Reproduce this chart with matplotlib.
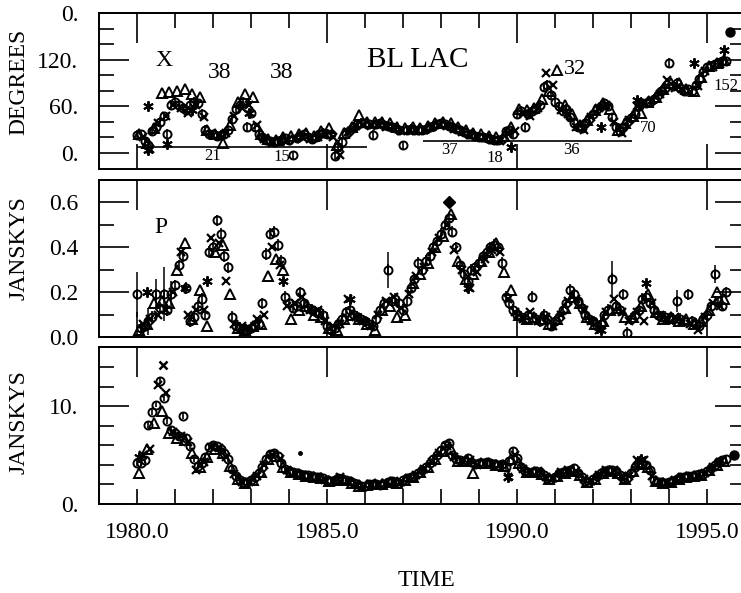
import matplotlib
matplotlib.use('Agg')
import matplotlib.pyplot as plt
from matplotlib.ticker import FixedLocator, NullLocator

plt.rcParams['font.family'] = ['Liberation Serif', 'DejaVu Serif']

# ---------------- observation epochs (years) ----------------
EPOCH_C = [
 1980.0,1980.1,1980.2,1980.3,1980.4,1980.5,1980.6,1980.7,1980.8,1980.9,
 1981.0,1981.1,1981.2,1981.3,1981.4,1981.5,1981.6,1981.7,1981.8,1981.9,
 1982.0,1982.1,1982.2,1982.3,1982.4,1982.5,1982.6,1982.7,1982.8,1982.9,
 1983.0,1983.1,1983.2,1983.3,1983.4,1983.5,1983.6,1983.7,1983.8,1983.9,
 1984.0,1984.1,1984.2,1984.3,1984.4,1984.5,1984.6,1984.7,1984.8,1984.9,
 1985.0,1985.1,1985.2,1985.3,1985.4,1985.5,1985.6,1985.7,1985.8,1985.9,
 1986.0,1986.1,1986.2,1986.3,1986.4,1986.5,1986.6,1986.7,1986.8,1986.9,
 1987.0,1987.1,1987.2,1987.3,1987.4,1987.5,1987.6,1987.7,1987.8,1987.9,
 1988.0,1988.1,1988.2,1988.3,1988.4,1988.5,1988.6,1988.7,1988.8,1988.9,
 1989.0,1989.1,1989.2,1989.3,1989.4,1989.5,1989.6,1989.7,1989.8,1989.9,
 1990.0,1990.1,1990.2,1990.3,1990.4,1990.5,1990.6,1990.7,1990.8,1990.9,
 1991.0,1991.1,1991.2,1991.3,1991.4,1991.5,1991.6,1991.7,1991.8,1991.9,
 1992.0,1992.1,1992.2,1992.3,1992.4,1992.5,1992.6,1992.7,1992.8,1992.9,
 1993.0,1993.1,1993.2,1993.3,1993.4,1993.5,1993.6,1993.7,1993.8,1993.9,
 1994.0,1994.1,1994.2,1994.3,1994.4,1994.5,1994.6,1994.7,1994.8,1994.9,
 1995.0,1995.1,1995.2,1995.3,1995.4,1995.5]
EPOCH_T = [
 1980.05,1980.25,1980.45,1980.65,1980.85, 1981.05,1981.25,1981.45,1981.65,1981.85,
 1982.05,1982.25,1982.45,1982.65,1982.85, 1983.05,1983.25,1983.45,1983.65,1983.85,
 1984.05,1984.25,1984.45,1984.65,1984.85, 1985.05,1985.25,1985.45,1985.65,1985.85,
 1986.05,1986.25,1986.45,1986.65,1986.85, 1987.05,1987.25,1987.45,1987.65,1987.85,
 1988.05,1988.25,1988.45,1988.65,1988.85, 1989.05,1989.25,1989.45,1989.65,1989.85,
 1990.05,1990.25,1990.45,1990.65,1990.85, 1991.05,1991.25,1991.45,1991.65,1991.85,
 1992.05,1992.25,1992.45,1992.65,1992.85, 1993.05,1993.25,1993.45,1993.65,1993.85,
 1994.05,1994.25,1994.45,1994.65,1994.85, 1995.05,1995.25,1995.45]
EPOCH_X = [
 1980.15,1980.35,1980.55,1980.75,1980.95, 1981.15,1981.35,1981.55,1981.75,1981.95,
 1982.15,1982.35,1982.55,1982.75,1982.95, 1983.15,1983.35,1983.55,1983.75,1983.95,
 1984.15,1984.35,1984.55,1984.75,1984.95, 1985.15,1985.35,1985.55,1985.75,1985.95,
 1986.15,1986.35,1986.55,1986.75,1986.95, 1987.15,1987.35,1987.55,1987.75,1987.95,
 1988.15,1988.35,1988.55,1988.75,1988.95, 1989.15,1989.35,1989.55,1989.75,1989.95,
 1990.15,1990.35,1990.55,1990.75,1990.95, 1991.15,1991.35,1991.55,1991.75,1991.95,
 1992.15,1992.35,1992.55,1992.75,1992.95, 1993.15,1993.35,1993.55,1993.75,1993.95,
 1994.15,1994.35,1994.55,1994.75,1994.95, 1995.15,1995.35]

# ---------------- top panel: polarization angle (degrees) ----------------
DEG_C = [
 23,24,16,10,28,34,40,47,25,62,
 66,62,58,55,62,66,64,50,30,25,
 24,22,23,25,30,44,56,62,66,34,
 51,34,25,20,17,15,14,15,17,19,
 17,-3,19,22,24,21,18,20,24,26,
 25,24,-4,8,14,24,30,34,37,39,
 38,37,23,37,38,36,35,34,32,30,
 10,30,31,30,29,30,31,33,35,37,
 38,37,35,33,31,29,27,25,24,22,
 21,20,19,18,17,17,18,28,30,25,
 50,54,34,50,54,57,62,85,88,75,
 66,60,54,57,46,38,34,32,38,44,
 50,56,60,64,60,46,34,28,33,40,
 45,50,60,64,64,66,70,74,80,84,
 116,86,90,84,80,82,80,88,95,104,
 110,112,114,116,118,118]
DEG_T = [
 24,13,32,77,78, 80,82,76,72,30,
 25,13,36,66,76, 72,24,18,17,20,
 22,24,26,22,28, 32,10,26,34,49,
 40,40,40,38,34, 32,33,32,35,38,
 40,38,34,30,26, 24,22,20,22,34,
 56,55,58,70,80, 107,62,50,36,42,
 55,64,56,30,38, 48,52,66,72,82,
 90,90,82,80,98, 112,116,120]
DEG_X = [
 20,5,38,48,62, 58,52,62,46,24,
 22,26,48,58,62, 36,18,13,14,16,
 18,20,18,20,24, 20,-3,27,35,36,
 35,36,34,32,28, 29,28,30,34,36,
 35,31,27,23,20, 19,17,16,26,28,
 50,48,58,103,88, 55,50,34,30,46,
 58,62,40,26,42, 60,66,68,76,94,
 84,82,78,86,106, 110,114]
DEG_A_T = [1980.3, 1980.3, 1980.8, 1981.45, 1982.95, 1989.85, 1992.2, 1993.15, 1994.65, 1995.45]
DEG_A_V = [60, 4, 12, 55, 52, 8, 34, 68, 116, 133]
DEG_F_T = [1995.6]
DEG_F_V = [155]
DEG_ERR = 6
SEG_START = [1980.0, 1987.53]
SEG_END = [1986.06, 1993.03]
SEG_LEVEL = [7.1, 15.5]

# ---------------- middle panel: polarized flux (Jy) ----------------
POL_C = [
 0.19,0.04,0.05,0.07,0.09,0.19,0.13,0.19,0.12,0.19,
 0.23,0.32,0.36,0.22,0.07,0.09,0.14,0.17,0.10,0.38,
 0.40,0.52,0.46,0.36,0.31,0.09,0.05,0.04,0.03,0.03,
 0.04,0.05,0.06,0.15,0.37,0.46,0.47,0.41,0.34,0.18,
 0.15,0.13,0.14,0.20,0.15,0.13,0.12,0.11,0.11,0.10,
 0.05,0.03,0.04,0.06,0.08,0.11,0.12,0.10,0.09,0.08,
 0.07,0.06,0.05,0.08,0.12,0.15,0.30,0.16,0.17,0.15,
 0.12,0.16,0.22,0.26,0.33,0.30,0.34,0.36,0.40,0.43,
 0.46,0.50,0.53,0.47,0.40,0.32,0.28,0.25,0.30,0.31,
 0.33,0.36,0.38,0.40,0.41,0.40,0.33,0.18,0.15,0.12,
 0.10,0.09,0.08,0.10,0.18,0.08,0.07,0.10,0.08,0.05,
 0.07,0.09,0.12,0.15,0.21,0.19,0.16,0.13,0.10,0.08,
 0.07,0.05,0.06,0.10,0.12,0.26,0.14,0.12,0.19,0.02,
 0.08,0.10,0.12,0.17,0.18,0.15,0.12,0.10,0.09,0.09,
 0.08,0.08,0.16,0.08,0.07,0.19,0.07,0.06,0.05,0.08,
 0.10,0.14,0.28,0.16,0.14,0.20]
POL_T = [
 0.03,0.06,0.15,0.16,0.15, 0.30,0.42,0.08,0.21,0.05,
 0.38,0.41,0.19,0.04,0.03, 0.05,0.06,0.27,0.35,0.30,
 0.08,0.12,0.14,0.10,0.09, 0.04,0.03,0.08,0.10,0.08,
 0.06,0.03,0.12,0.14,0.09, 0.10,0.24,0.28,0.33,0.40,
 0.45,0.55,0.34,0.26,0.28, 0.34,0.38,0.42,0.29,0.21,
 0.10,0.08,0.09,0.08,0.06, 0.08,0.13,0.18,0.15,0.09,
 0.06,0.07,0.12,0.13,0.09, 0.09,0.14,0.19,0.11,0.08,
 0.09,0.07,0.08,0.06,0.07, 0.12,0.20,0.17]
POL_X = [
 0.06,0.08,0.10,0.12,0.20, 0.38,0.10,0.12,0.12,0.44,
 0.42,0.25,0.06,0.05,0.04, 0.08,0.10,0.40,0.32,0.14,
 0.15,0.18,0.12,0.12,0.07, 0.05,0.06,0.17,0.09,0.07,
 0.05,0.10,0.16,0.18,0.13, 0.19,0.27,0.31,0.38,0.44,
 0.50,0.39,0.30,0.22,0.29, 0.35,0.39,0.38,0.17,0.11,
 0.08,0.11,0.07,0.09,0.05, 0.10,0.16,0.17,0.12,0.07,
 0.03,0.11,0.17,0.11,0.07, 0.11,0.07,0.15,0.10,0.08,
 0.09,0.07,0.06,0.03,0.09, 0.15,0.14]
POL_A_T = [1980.27, 1981.27, 1981.85, 1983.85, 1985.6, 1988.7, 1992.2, 1993.4]
POL_A_V = [0.20, 0.22, 0.25, 0.25, 0.17, 0.22, 0.03, 0.24]
POL_F_T = [1988.2]
POL_F_V = [0.60]
POL_ERR = 0.025
POL_BIG_T = [1980.0, 1980.3, 1980.5, 1980.7, 1980.9, 1986.6, 1992.5, 1994.2, 1995.2]
POL_BIG_V = [0.19, 0.07, 0.19, 0.19, 0.19, 0.30, 0.26, 0.16, 0.28]
POL_BIG_E = [0.10, 0.06, 0.07, 0.12, 0.06, 0.08, 0.08, 0.05, 0.04]

# ---------------- bottom panel: total flux (Jy) ----------------
TOT_C = [
 4.2,4.2,4.5,8.1,9.4,10.2,12.6,10.9,8.5,7.6,
 7.3,7.0,9.0,6.8,5.9,4.6,3.9,4.2,4.8,5.8,
 6.1,5.9,5.6,5.2,4.6,3.6,2.9,2.5,2.3,2.3,
 2.5,2.8,3.2,3.8,4.6,5.1,5.2,4.9,4.2,3.6,
 3.4,3.3,3.2,3.1,3.0,3.0,2.9,2.8,2.8,2.7,
 2.5,2.4,2.5,2.7,2.6,2.5,2.4,2.2,2.0,1.8,
 1.8,2.0,2.1,2.0,1.9,2.1,2.3,2.4,2.3,2.2,
 2.5,2.7,2.8,2.9,3.2,3.5,3.8,4.2,4.6,5.0,
 5.5,6.0,6.3,5.0,4.6,4.5,4.4,4.7,4.3,4.1,
 4.2,4.2,4.3,4.2,4.1,4.0,4.1,3.8,4.4,5.4,
 4.7,3.8,3.4,3.3,3.3,3.4,3.3,3.0,2.7,2.6,
 2.8,3.2,3.3,3.4,3.5,3.7,3.2,2.8,2.4,2.3,
 2.6,2.9,3.2,3.4,3.5,3.5,3.4,3.0,2.7,2.7,
 3.2,3.8,4.2,4.1,4.0,3.5,2.5,2.3,2.3,2.2,
 2.3,2.4,2.6,2.8,2.8,2.9,2.9,3.0,3.1,3.1,
 3.4,3.7,4.0,4.3,4.5,4.6]
TOT_T = [
 3.2,5.6,8.3,9.5,7.3, 6.8,6.6,5.2,3.8,4.8,
 5.6,5.2,3.9,2.6,2.2, 2.5,3.3,4.6,4.9,3.8,
 3.3,3.1,2.9,2.8,2.7, 2.4,2.5,2.5,2.2,1.8,
 1.9,2.0,2.0,2.3,2.2, 2.5,2.8,3.3,3.8,4.6,
 5.4,5.6,4.4,4.4,3.2, 4.2,4.2,4.0,3.9,4.6,
 4.2,3.3,3.3,3.1,2.6, 2.9,3.2,3.4,3.0,2.3,
 2.6,3.2,3.4,3.2,2.6, 3.4,4.1,3.8,2.4,2.2,
 2.3,2.6,2.8,2.9,3.0, 3.5,4.0,4.4]
TOT_X = [
 5.0,5.6,12.2,11.4,7.4, 7.0,6.4,3.5,4.3,5.8,
 5.7,4.8,3.1,2.3,2.3, 2.9,4.0,5.0,4.6,3.5,
 3.2,3.0,2.9,2.8,2.5, 2.4,2.8,2.4,2.1,1.7,
 2.0,1.9,2.2,2.4,2.3, 2.7,3.0,3.6,4.3,5.2,
 5.9,4.8,4.4,4.5,4.0, 4.2,4.1,4.1,2.8,5.0,
 3.6,3.3,3.4,2.8,2.7, 3.3,3.5,3.4,2.6,2.4,
 3.0,3.5,3.5,2.9,2.9, 4.5,4.5,2.9,2.3,2.2,
 2.5,2.8,2.9,3.0,3.2, 3.8,4.3]
TOT_XX_T = [1980.68]
TOT_XX_V = [14.3]
TOT_A_T = [1980.05, 1989.75, 1993.25]
TOT_A_V = [4.8, 2.8, 4.6]
TOT_F_T = [1995.72]
TOT_F_V = [5.0]
TOT_DOT_T = [1984.3]
TOT_DOT_V = [5.2]
TOT_ERR = 0.3

# ---------------- axes / tick definitions ----------------
YEARS_MAJOR = [1980, 1985, 1990, 1995]
YEARS_ALL = list(range(1979, 1997))
XTICK_LABELS = ['1980.0', '1985.0', '1990.0', '1995.0']
DEG_TICKS = [0, 60, 120, 180]
DEG_LABELS = ['0.', '60.', '120.', '0.']
DEG_MINOR = [20, 40, 80, 100, 140, 160]
POL_TICKS = [0.0, 0.2, 0.4, 0.6]
POL_LABELS = ['0.0', '0.2', '0.4', '0.6']
POL_MINOR = [0.1, 0.3, 0.5]
TOT_TICKS = [0, 10]
TOT_LABELS = ['0.', '10.']
TOT_MINOR = [2, 4, 6, 8, 12, 14]

W, H = 741, 593
fig = plt.figure(figsize=(W / 100, H / 100), dpi=100)


def box(l, r, t, b):
    return [l / W, 1 - b / H, (r - l) / W, (b - t) / H]


ax1 = fig.add_axes(box(99, 745, 13, 169))
ax2 = fig.add_axes(box(99, 745, 180, 337))
ax3 = fig.add_axes(box(99, 745, 347, 504))

MAJ = 21.6
MIN = 10.8
TW = 1.2
FS = 17


def draw(ax, vc, err, vt, vx, at, av):
    ax.errorbar(EPOCH_C, vc, yerr=err, fmt='o', ms=5.8, mfc='none', mec='k',
                mew=1.4, ecolor='k', elinewidth=1.2, capsize=0, zorder=3)
    ax.plot(EPOCH_T, vt, '^', ls='none', ms=6.8, mfc='none', mec='k', mew=1.4, zorder=3)
    ax.plot(EPOCH_X, vx, 'x', ls='none', ms=5.8, mec='k', mew=1.6, zorder=3)
    ax.plot(at, av, marker=(6, 2, 0), ls='none', ms=7.5, mec='k', mew=1.4, zorder=3)


draw(ax1, DEG_C, DEG_ERR, DEG_T, DEG_X, DEG_A_T, DEG_A_V)
ax1.plot(DEG_F_T, DEG_F_V, 'o', ms=6.5, color='k', zorder=4)
ax1.hlines(SEG_LEVEL, SEG_START, SEG_END, colors='k', lw=1.2)

draw(ax2, POL_C, POL_ERR, POL_T, POL_X, POL_A_T, POL_A_V)
ax2.plot(POL_F_T, POL_F_V, 'D', ms=6, color='k', zorder=4)
ax2.errorbar(POL_BIG_T, POL_BIG_V, yerr=POL_BIG_E, fmt='none', ecolor='k',
             elinewidth=1.1, capsize=0)

draw(ax3, TOT_C, TOT_ERR, TOT_T, TOT_X, TOT_A_T, TOT_A_V)
ax3.plot(TOT_XX_T, TOT_XX_V, 'x', ls='none', ms=5.5, mec='k', mew=1.8)
ax3.plot(TOT_F_T, TOT_F_V, 'o', ms=6.5, color='k', zorder=4)
ax3.plot(TOT_DOT_T, TOT_DOT_V, 'o', ms=2.5, color='k')

ax1.set_ylim(-20.6, 180)
ax2.set_ylim(0, 0.7)
ax3.set_ylim(0, 16.1)

for ax, yt, yl, ym in ((ax1, DEG_TICKS, DEG_LABELS, DEG_MINOR),
                       (ax2, POL_TICKS, POL_LABELS, POL_MINOR),
                       (ax3, TOT_TICKS, TOT_LABELS, TOT_MINOR)):
    ax.set_xlim(1979.0, 1996.0)
    for s in ax.spines.values():
        s.set_linewidth(1.4)
    ax.set_yticks(yt)
    ax.set_yticklabels(yl)
    ax.yaxis.set_minor_locator(FixedLocator(ym))
    ax.tick_params(axis='y', which='major', direction='in', length=MAJ, width=TW,
                   left=True, right=True, labelleft=True, labelright=False,
                   labelsize=FS, pad=15)
    ax.tick_params(axis='y', which='minor', direction='in', length=MIN, width=TW,
                   left=True, right=True)
    ax.set_xticks(YEARS_MAJOR)
    # top ticks via secondary axis
    sec = ax.secondary_xaxis('top')
    sec.set_xticks(YEARS_MAJOR)
    sec.tick_params(axis='x', which='major', direction='in', length=MAJ, width=TW,
                    labeltop=False, labelbottom=False)
    if ax is ax1:
        sec.xaxis.set_minor_locator(FixedLocator(YEARS_ALL))
        sec.tick_params(axis='x', which='minor', direction='in', length=MIN, width=TW)
    else:
        sec.xaxis.set_minor_locator(NullLocator())
    for s in sec.spines.values():
        s.set_linewidth(1.4)

for ax in (ax1, ax2):
    ax.xaxis.set_minor_locator(NullLocator())
    ax.tick_params(axis='x', which='major', direction='in', length=18, width=TW,
                   bottom=True, top=False, labelbottom=False)

ax3.xaxis.set_minor_locator(FixedLocator(YEARS_ALL))
ax3.set_xticklabels(XTICK_LABELS)
ax3.tick_params(axis='x', which='both', direction='in', length=MIN, width=TW,
                bottom=True, top=False, labelsize=FS, pad=13)

# annotations
ax1.text(1980.70, 118.7, 'X', fontsize=17, ha='center', va='center')
ax1.text(1982.17, 103.2, '38', fontsize=17, ha='center', va='center')
ax1.text(1983.80, 103.2, '38', fontsize=17, ha='center', va='center')
ax1.text(1987.39, 120.0, 'BL LAC', fontsize=21, ha='center', va='center')
ax1.text(1991.52, 107.1, '32', fontsize=16, ha='center', va='center')
ax1.text(1981.98, -3.9, '21', fontsize=12, ha='center', va='center')
ax1.text(1983.80, -5.2, '15', fontsize=12, ha='center', va='center')
ax1.text(1988.23, 3.9, '37', fontsize=12, ha='center', va='center')
ax1.text(1989.42, -6.5, '18', fontsize=12, ha='center', va='center')
ax1.text(1991.44, 3.9, '36', fontsize=12, ha='center', va='center')
ax1.text(1993.44, 32.3, '70', fontsize=12, ha='center', va='center')
ax1.text(1995.84, 86.5, '152', fontsize=12, ha='right', va='center')
ax2.text(1980.62, 0.49, 'P', fontsize=17, ha='center', va='center')

fig.text(19 / W, 1 - 82 / H, 'DEGREES', rotation=90, fontsize=17, ha='center', va='center')
fig.text(19 / W, 1 - 248 / H, 'JANSKYS', rotation=90, fontsize=17, ha='center', va='center')
fig.text(19 / W, 1 - 422 / H, 'JANSKYS', rotation=90, fontsize=17, ha='center', va='center')
fig.text(426 / W, 1 - 581 / H, 'TIME', fontsize=17, ha='center', va='center')

fig.savefig('out.png', dpi=100)
